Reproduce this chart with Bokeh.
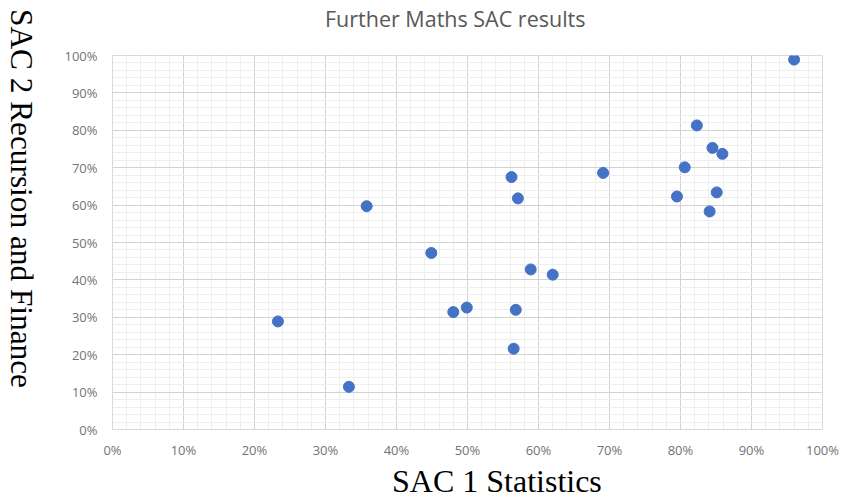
from bokeh.plotting import figure
from bokeh.layouts import row, column
from bokeh.models import Range1d, FixedTicker, NumeralTickFormatter, Div
from bokeh.embed import file_html
from bokeh.resources import INLINE

# Data (fractions of 100%)
sac1_statistics = [0.960, 0.823, 0.845, 0.859, 0.806, 0.691, 0.562, 0.571, 0.358,
                   0.449, 0.589, 0.620, 0.480, 0.499, 0.568, 0.565, 0.233, 0.333,
                   0.795, 0.851, 0.841]
sac2_recursion_finance = [0.989, 0.813, 0.753, 0.737, 0.701, 0.686, 0.675, 0.618, 0.597,
                          0.472, 0.428, 0.414, 0.314, 0.326, 0.320, 0.216, 0.289, 0.114,
                          0.623, 0.634, 0.583]
tick_values = [0.0, 0.1, 0.2, 0.3, 0.4, 0.5, 0.6, 0.7, 0.8, 0.9, 1.0]
minor_tick_values = [i / 50 for i in range(51)]

title_text = "Further Maths SAC results"
x_label_text = "SAC 1 Statistics"
y_label_text = "SAC 2 Recursion and Finance"

LEFT_W = 40
TITLE_H = 45
PLOT_H = 423
BOTTOM_H = 31

# vertical y-axis title, reading top to bottom
ydiv = Div(
    text=('<div style="writing-mode:vertical-rl; font-family:\'Liberation Serif\', serif; '
          'font-size:31.3px; line-height:42px; color:#000; white-space:nowrap; '
          'padding-top:9px; margin:0;">' + y_label_text + '</div>'),
    width=LEFT_W, height=TITLE_H + PLOT_H, margin=0)

# chart title
tdiv = Div(
    text=('<div style="font-family:\'Open Sans\', sans-serif; font-size:21.5px; '
          'line-height:30px; color:#595959; white-space:nowrap; padding-top:4px; '
          'padding-left:%dpx; margin:0;">' % (325 - LEFT_W)) + title_text + '</div>',
    width=843 - LEFT_W, height=TITLE_H, margin=0)

# main scatter
p = figure(width=843 - LEFT_W, height=PLOT_H, output_backend="svg", toolbar_location=None,
           x_range=Range1d(0, 1), y_range=Range1d(0, 1), title=None)
p.min_border_left = 112 - LEFT_W
p.min_border_right = 21
p.min_border_top = 55 - TITLE_H
p.min_border_bottom = PLOT_H - (429 - TITLE_H)
p.background_fill_color = "white"
p.border_fill_color = "white"
p.outline_line_color = "#d9d9d9"
p.outline_line_width = 1

for ax in (p.xaxis, p.yaxis):
    ax.ticker = FixedTicker(ticks=tick_values, minor_ticks=minor_tick_values)
    ax.formatter = NumeralTickFormatter(format="0%")
    ax.axis_line_color = None
    ax.major_tick_line_color = None
    ax.minor_tick_line_color = None
    ax.major_label_text_font = "Open Sans"
    ax.major_label_text_font_size = "13px"
    ax.major_label_text_color = "#737373"
p.xaxis.major_label_standoff = 5
p.yaxis.major_label_standoff = 9

for g in (p.xgrid, p.ygrid):
    g.grid_line_color = "#d2d2d2"
    g.grid_line_width = 1
    g.minor_grid_line_color = "#eeeeee"
    g.minor_grid_line_width = 1

p.scatter(sac1_statistics, sac2_recursion_finance, size=11, marker="circle",
          fill_color="#4472c4", line_color="#4472c4")

# x-axis title
xdiv = Div(
    text=('<div style="font-family:\'Liberation Serif\', serif; font-size:32px; '
          'line-height:26px; color:#000; white-space:nowrap; padding-left:392px; '
          'margin:0;">' + x_label_text + '</div>'),
    width=843, height=BOTTOM_H, margin=0)

layout = column(row(ydiv, column(tdiv, p)), xdiv)
open("out.html", "w").write(file_html(layout, INLINE))
